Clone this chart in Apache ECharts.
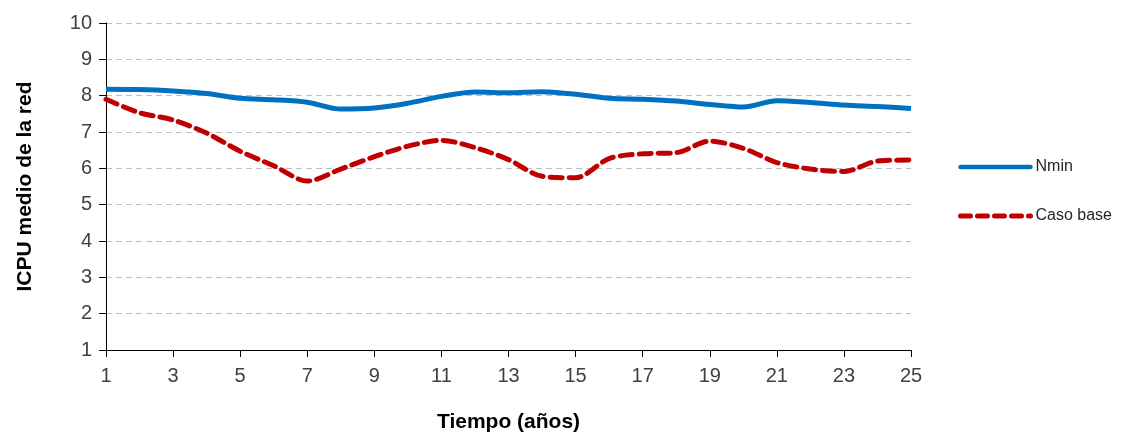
<!DOCTYPE html>
<html>
<head>
<meta charset="utf-8">
<script src="https://cdn.jsdelivr.net/npm/echarts@6/dist/echarts.min.js"></script>
<style>html,body{margin:0;padding:0;background:#fff}#c{width:1122px;height:438px}</style>
</head>
<body>
<div id="c"></div>
<script>
const years = ['1','2','3','4','5','6','7','8','9','10','11','12','13','14','15','16','17','18','19','20','21','22','23','24','25'];
const nmin = [8.18,8.17,8.13,8.06,7.93,7.89,7.82,7.63,7.66,7.79,7.98,8.10,8.08,8.11,8.04,7.93,7.90,7.85,7.76,7.69,7.86,7.81,7.74,7.70,7.65];
const casoBase = [7.90,7.53,7.33,6.97,6.47,6.07,5.65,5.98,6.32,6.61,6.77,6.57,6.24,5.78,5.74,6.27,6.40,6.43,6.75,6.55,6.16,5.98,5.91,6.20,6.23];
const seriesNames = ['Nmin','Caso base'];
const yTitle = 'ICPU medio de la red';
const xTitle = 'Tiempo (años)';

const chart = echarts.init(document.getElementById('c'));
chart.setOption({
  animation: false,
  textStyle: {fontFamily: 'Liberation Sans'},
  grid: {left: 106, right: 211, top: 23, bottom: 85},
  legend: {
    orient: 'vertical', left: 953, top: 154, itemWidth: 70, itemHeight: 14, itemGap: 33,
    textStyle: {fontSize: 16, color: '#262626'},
    itemStyle: {opacity: 0},
    data: [
      {name: seriesNames[0], lineStyle: {width: 4.5, color: '#0070C0', type: 'solid', cap: 'round'}},
      {name: seriesNames[1], lineStyle: {width: 5, color: '#C00000', type: [10, 7], cap: 'round'}}
    ]
  },
  xAxis: {
    type: 'category', data: years, boundaryGap: false,
    name: xTitle, nameLocation: 'middle', nameGap: 62,
    nameTextStyle: {fontSize: 21, fontWeight: 'bold', color: '#000'},
    axisLine: {lineStyle: {color: '#000', width: 1}},
    axisTick: {interval: 1, length: 7, lineStyle: {color: '#000'}},
    axisLabel: {interval: 1, fontSize: 20, color: '#404040', margin: 16},
    splitLine: {show: false}
  },
  yAxis: {
    type: 'value', min: 1, max: 10, interval: 1,
    name: yTitle, nameLocation: 'middle', nameGap: 70, nameRotate: 90,
    nameTextStyle: {fontSize: 21, fontWeight: 'bold', color: '#000'},
    axisLine: {show: true, lineStyle: {color: '#000', width: 1}},
    axisTick: {show: true, inside: false, length: 7, lineStyle: {color: '#000'}},
    axisLabel: {fontSize: 20, color: '#404040', margin: 14},
    splitLine: {show: true, lineStyle: {color: '#bfbfbf', type: [6, 4], width: 1}}
  },
  series: [
    {name: seriesNames[0], type: 'line', data: nmin, smooth: 0.3, symbol: 'none',
     lineStyle: {color: '#0070C0', width: 5}, itemStyle: {color: '#0070C0'}},
    {name: seriesNames[1], type: 'line', data: casoBase, smooth: 0.3, symbol: 'none',
     lineStyle: {color: '#C00000', width: 5, type: [12, 7], cap: 'round'}, itemStyle: {color: '#C00000'}}
  ]
});
</script>
</body>
</html>
